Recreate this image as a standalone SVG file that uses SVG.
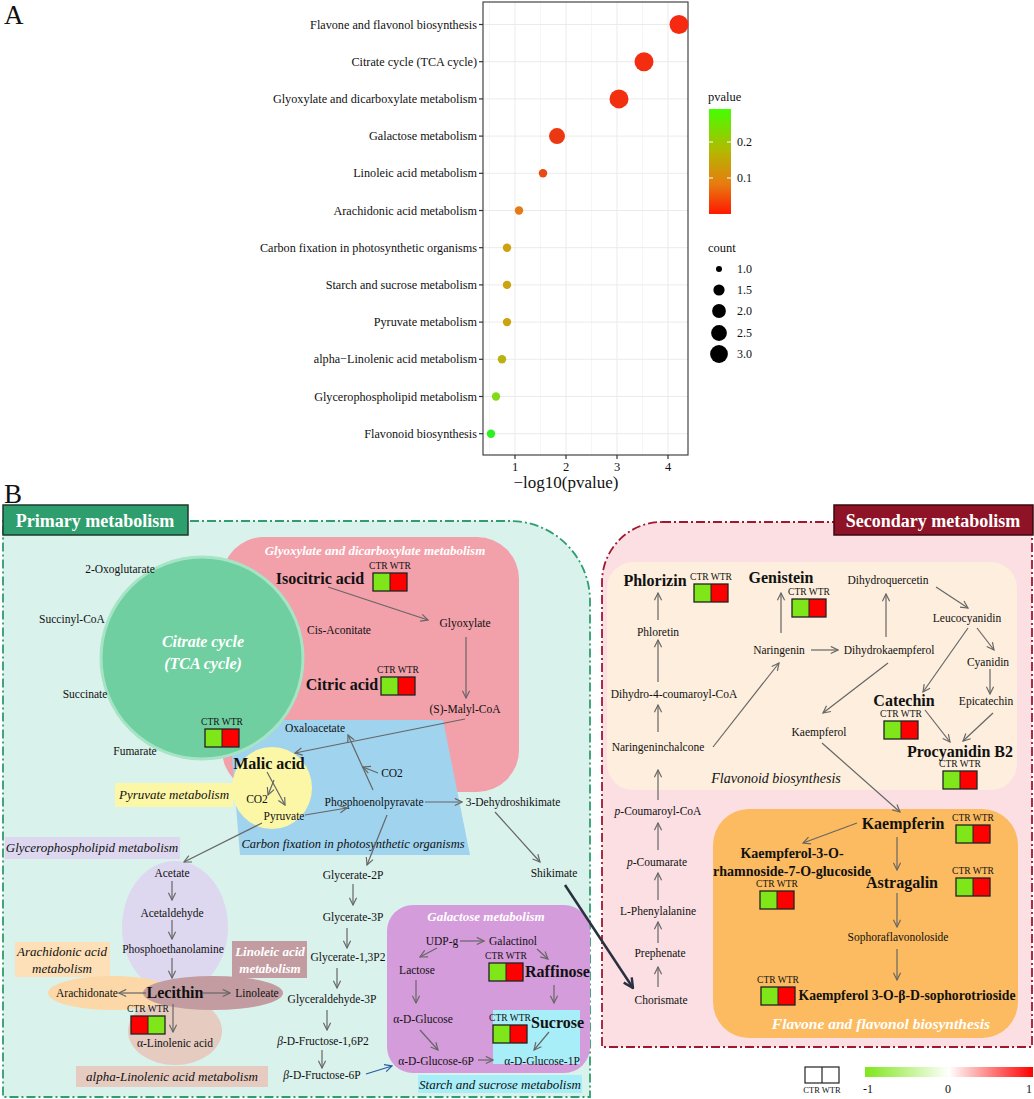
<svg xmlns="http://www.w3.org/2000/svg" xmlns:xlink="http://www.w3.org/1999/xlink" width="1034" height="1099" viewBox="0 0 1034 1099">
<defs>
<style>
text{font-family:"Liberation Serif","DejaVu Serif",serif;fill:#111}
.t{font-size:11.5px;text-anchor:middle}
.tl{font-size:12.2px;text-anchor:end}
.b{font-size:16px;font-weight:bold;text-anchor:middle}
.bs{font-size:14px;font-weight:bold;text-anchor:middle}
.it{font-size:13px;font-style:italic;text-anchor:middle}
.wt{font-size:13px;font-style:italic;font-weight:bold;text-anchor:middle;fill:#fff}
.cw{font-size:9.5px;text-anchor:middle}
.a{stroke:#666;stroke-width:1.2;fill:none;marker-end:url(#ah)}
.grid{stroke:#ebebeb;stroke-width:1}
.gridm{stroke:#f4f4f4;stroke-width:0.8}
.hd{font-size:18px;font-weight:bold;fill:#fff;text-anchor:middle}
</style>
<marker id="ah" viewBox="0 0 10 10" refX="9" refY="5" markerWidth="9" markerHeight="9" orient="auto" markerUnits="userSpaceOnUse">
<path d="M1,1 L9,5 L1,9" fill="none" stroke="#666" stroke-width="1.3"/>
</marker>
<marker id="ahb" viewBox="0 0 10 10" refX="9" refY="5" markerWidth="9" markerHeight="9" orient="auto" markerUnits="userSpaceOnUse">
<path d="M1,1 L9,5 L1,9" fill="none" stroke="#2a5aa0" stroke-width="1.3"/>
</marker>
<marker id="ahd" viewBox="0 0 10 10" refX="9" refY="5" markerWidth="12" markerHeight="12" orient="auto" markerUnits="userSpaceOnUse">
<path d="M1,1 L9,5 L1,9" fill="none" stroke="#2a3040" stroke-width="2"/>
</marker>
<linearGradient id="pv" x1="0" y1="0" x2="0" y2="1">
<stop offset="0" stop-color="#44ff00"/>
<stop offset="0.4" stop-color="#b4b800"/>
<stop offset="0.72" stop-color="#e87a10"/>
<stop offset="1" stop-color="#ff1800"/>
</linearGradient>
<linearGradient id="fc" x1="0" y1="0" x2="1" y2="0">
<stop offset="0" stop-color="#7fe61a"/>
<stop offset="0.5" stop-color="#ffffff"/>
<stop offset="1" stop-color="#ff0000"/>
</linearGradient>
<g id="gr">
<text x="17" y="-4" class="cw">CTR WTR</text>
<rect x="0" y="0" width="17" height="18" fill="#7fe61a"/>
<rect x="17" y="0" width="17" height="18" fill="#ff0000"/>
<rect x="0" y="0" width="34" height="18" fill="none" stroke="#222" stroke-width="1.3"/>
<line x1="17" y1="0" x2="17" y2="18" stroke="#222" stroke-width="1"/>
</g>
<g id="rg">
<text x="17" y="-4" class="cw">CTR WTR</text>
<rect x="0" y="0" width="17" height="18" fill="#ff0000"/>
<rect x="17" y="0" width="17" height="18" fill="#7fe61a"/>
<rect x="0" y="0" width="34" height="18" fill="none" stroke="#222" stroke-width="1.3"/>
<line x1="17" y1="0" x2="17" y2="18" stroke="#222" stroke-width="1"/>
</g>
</defs>
<rect width="1034" height="1099" fill="#fff"/>

<!-- Panel A -->
<g id="panelA">
<text x="4" y="24" style="font-size:27px">A</text>
<rect x="483" y="2" width="205" height="453" fill="#fff"/>
<g>
<line class="gridm" x1="489.5" y1="2" x2="489.5" y2="455"/>
<line class="gridm" x1="540.5" y1="2" x2="540.5" y2="455"/>
<line class="gridm" x1="591.5" y1="2" x2="591.5" y2="455"/>
<line class="gridm" x1="642.5" y1="2" x2="642.5" y2="455"/>
<line class="grid" x1="515" y1="2" x2="515" y2="455"/>
<line class="grid" x1="566" y1="2" x2="566" y2="455"/>
<line class="grid" x1="617" y1="2" x2="617" y2="455"/>
<line class="grid" x1="668" y1="2" x2="668" y2="455"/>
<line class="grid" x1="483" y1="24.5" x2="688" y2="24.5"/>
<line class="grid" x1="483" y1="61.7" x2="688" y2="61.7"/>
<line class="grid" x1="483" y1="98.9" x2="688" y2="98.9"/>
<line class="grid" x1="483" y1="136.1" x2="688" y2="136.1"/>
<line class="grid" x1="483" y1="173.3" x2="688" y2="173.3"/>
<line class="grid" x1="483" y1="210.5" x2="688" y2="210.5"/>
<line class="grid" x1="483" y1="247.7" x2="688" y2="247.7"/>
<line class="grid" x1="483" y1="284.9" x2="688" y2="284.9"/>
<line class="grid" x1="483" y1="322.1" x2="688" y2="322.1"/>
<line class="grid" x1="483" y1="359.3" x2="688" y2="359.3"/>
<line class="grid" x1="483" y1="396.5" x2="688" y2="396.5"/>
<line class="grid" x1="483" y1="433.7" x2="688" y2="433.7"/>
</g>
<rect x="483" y="2" width="205" height="453" fill="none" stroke="#444" stroke-width="1.2"/>
<g stroke="#333" stroke-width="1.2">
<line x1="479" y1="24.5" x2="483" y2="24.5"/><line x1="479" y1="61.7" x2="483" y2="61.7"/>
<line x1="479" y1="98.9" x2="483" y2="98.9"/><line x1="479" y1="136.1" x2="483" y2="136.1"/>
<line x1="479" y1="173.3" x2="483" y2="173.3"/><line x1="479" y1="210.5" x2="483" y2="210.5"/>
<line x1="479" y1="247.7" x2="483" y2="247.7"/><line x1="479" y1="284.9" x2="483" y2="284.9"/>
<line x1="479" y1="322.1" x2="483" y2="322.1"/><line x1="479" y1="359.3" x2="483" y2="359.3"/>
<line x1="479" y1="396.5" x2="483" y2="396.5"/><line x1="479" y1="433.7" x2="483" y2="433.7"/>
<line x1="515" y1="455" x2="515" y2="459"/><line x1="566" y1="455" x2="566" y2="459"/>
<line x1="617" y1="455" x2="617" y2="459"/><line x1="668" y1="455" x2="668" y2="459"/>
</g>
<text class="tl" x="477" y="28.5">Flavone and flavonol biosynthesis</text>
<text class="tl" x="477" y="65.7">Citrate cycle (TCA cycle)</text>
<text class="tl" x="477" y="102.9">Glyoxylate and dicarboxylate metabolism</text>
<text class="tl" x="477" y="140.1">Galactose metabolism</text>
<text class="tl" x="477" y="177.3">Linoleic acid metabolism</text>
<text class="tl" x="477" y="214.5">Arachidonic acid metabolism</text>
<text class="tl" x="477" y="251.7">Carbon fixation in photosynthetic organisms</text>
<text class="tl" x="477" y="288.9">Starch and sucrose metabolism</text>
<text class="tl" x="477" y="326.1">Pyruvate metabolism</text>
<text class="tl" x="477" y="363.3">alpha−Linolenic acid metabolism</text>
<text class="tl" x="477" y="400.5">Glycerophospholipid metabolism</text>
<text class="tl" x="477" y="437.7">Flavonoid biosynthesis</text>
<text class="t" x="515" y="471" style="font-size:12.5px">1</text>
<text class="t" x="566" y="471" style="font-size:12.5px">2</text>
<text class="t" x="617" y="471" style="font-size:12.5px">3</text>
<text class="t" x="668" y="471" style="font-size:12.5px">4</text>
<text class="t" x="566" y="488" style="font-size:17px">−log10(pvalue)</text>
<circle cx="679" cy="24.5" r="9.5" fill="#f52a10"/>
<circle cx="644" cy="61.7" r="9.5" fill="#f42c10"/>
<circle cx="619" cy="98.9" r="9.5" fill="#f23010"/>
<circle cx="557" cy="136.1" r="8" fill="#ec3812"/>
<circle cx="543" cy="173.3" r="4.2" fill="#e84a14"/>
<circle cx="519" cy="210.5" r="4.2" fill="#e57a18"/>
<circle cx="507" cy="247.7" r="4.2" fill="#cfa010"/>
<circle cx="507" cy="284.9" r="4.2" fill="#cda210"/>
<circle cx="507" cy="322.1" r="4.2" fill="#cda210"/>
<circle cx="502" cy="359.3" r="4.2" fill="#bab20e"/>
<circle cx="496" cy="396.5" r="4.2" fill="#84da18"/>
<circle cx="491" cy="433.7" r="4.2" fill="#2cf020"/>
<!-- legend -->
<text x="708" y="101" style="font-size:12.5px">pvalue</text>
<rect x="709" y="109" width="22" height="105" fill="url(#pv)"/>
<g stroke="#fff" stroke-width="1"><line x1="709" y1="142" x2="713" y2="142"/><line x1="727" y1="142" x2="731" y2="142"/><line x1="709" y1="178" x2="713" y2="178"/><line x1="727" y1="178" x2="731" y2="178"/></g>
<text x="737" y="146" style="font-size:12px">0.2</text>
<text x="737" y="182" style="font-size:12px">0.1</text>
<text x="708" y="252" style="font-size:12.5px">count</text>
<circle cx="719" cy="269" r="3" fill="#000"/>
<circle cx="719" cy="290" r="5.6" fill="#000"/>
<circle cx="719" cy="311" r="6.9" fill="#000"/>
<circle cx="719" cy="333" r="7.9" fill="#000"/>
<circle cx="719" cy="354" r="8.9" fill="#000"/>
<text x="737" y="273" style="font-size:12px">1.0</text>
<text x="737" y="294" style="font-size:12px">1.5</text>
<text x="737" y="315" style="font-size:12px">2.0</text>
<text x="737" y="337" style="font-size:12px">2.5</text>
<text x="737" y="358" style="font-size:12px">3.0</text>
</g>

<!-- Panel B -->
<text x="4" y="503" style="font-size:27px">B</text>

<g id="primary-region">
<path d="M3,521 H510 A80,80 0 0 1 590,601 V1097 H3 Z" fill="#daf2ec" stroke="#2e9e6e" stroke-width="1.8" stroke-dasharray="9,3,2,3"/>
</g>
<g id="secondary-region">
<path d="M662,522 H1032 V1047 H602 V582 A60,60 0 0 1 662,522 Z" fill="#fbdfe3" stroke="#a01830" stroke-width="1.8" stroke-dasharray="9,3,2,3"/>
</g>
<g id="primary-header">
<rect x="3" y="505" width="185" height="30" fill="#2f9e6e" stroke="#1d3a2c" stroke-width="1.5"/>
<text class="hd" x="95" y="527">Primary metabolism</text>
</g>
<g id="secondary-header">
<rect x="834" y="505" width="199" height="30" fill="#8e1326" stroke="#3a0a10" stroke-width="1.5"/>
<text class="hd" x="933" y="527">Secondary metabolism</text>
</g>

<!-- primary sub-areas -->
<g id="glyoxylate-area">
<rect x="222" y="537" width="297" height="255" rx="42" fill="#f2a0aa"/>
<text class="wt" x="375" y="555">Glyoxylate and dicarboxylate metabolism</text>
</g>
<g id="carbon-fixation-area">
<polygon points="229,720 443,720 470,855 240,855" fill="#9fd3ee"/>
<text class="it" x="353" y="848" style="font-size:12.5px">Carbon fixation in photosynthetic organisms</text>
</g>
<g id="tca-cycle">
<circle cx="202" cy="658" r="101" fill="#6fcfa0" stroke="#a6e4c6" stroke-width="3"/>
<text class="wt" x="203" y="647" style="font-size:16px">Citrate cycle</text>
<text class="wt" x="203" y="669" style="font-size:16px">(TCA cycle)</text>
<use xlink:href="#gr" x="205" y="729"/>
</g>
<g id="pyruvate-area">
<ellipse cx="272" cy="788" rx="40" ry="41" fill="#fcf7a6"/>
<rect x="115" y="783" width="118" height="24" fill="#fcf7a6"/>
<text class="it" x="174" y="799">Pyruvate metabolism</text>
</g>
<g id="glycerophospholipid-area">
<rect x="5" y="837" width="175" height="22" fill="#ddd8ef"/>
<text class="it" x="92" y="852">Glycerophospholipid metabolism</text>
<ellipse cx="175" cy="927" rx="53" ry="66" fill="#ddd8ef"/>
</g>
<g id="alpha-linolenic-area">
<ellipse cx="175" cy="1031" rx="47" ry="34" fill="#e5cbc0"/>
<rect x="76" y="1066" width="192" height="21" fill="#e5cbc0"/>
<text class="it" x="172" y="1081">alpha-Linolenic acid metabolism</text>
</g>
<g id="arachidonic-area">
<rect x="15" y="942" width="95" height="35" fill="#fde0b8"/>
<text class="it" x="62" y="956">Arachidonic acid</text>
<text class="it" x="62" y="973">metabolism</text>
<ellipse cx="112" cy="993" rx="64" ry="17" fill="#fcd8a8"/>
</g>
<g id="linoleic-area">
<ellipse cx="213" cy="993" rx="70" ry="17" fill="#c29ca0"/>
<rect x="232" y="941" width="75" height="37" fill="#c29ca0"/>
<text class="wt" x="270" y="956">Linoleic acid</text>
<text class="wt" x="270" y="973">metabolism</text>
</g>
<g id="galactose-area">
<rect x="387" y="905" width="203" height="168" rx="26" fill="#d59cdb"/>
<text class="wt" x="486" y="921">Galactose metabolism</text>
<rect x="493" y="1010" width="87" height="54" fill="#a8eef8"/>
<rect x="418" y="1075" width="164" height="18" fill="#a8eef8"/>
<text class="it" x="500" y="1089">Starch and sucrose metabolism</text>
</g>

<!-- secondary sub-areas -->
<g id="flavonoid-area">
<rect x="607" y="562" width="410" height="228" rx="26" fill="#fdeedd"/>
<text class="it" x="776" y="783" style="font-size:14px">Flavonoid biosynthesis</text>
</g>
<g id="flavone-area">
<rect x="713" y="809" width="305" height="229" rx="36" fill="#fcbb60"/>
<text class="wt" x="881" y="1029" style="font-size:15.5px">Flavone and flavonol biosynthesis</text>
</g>

<!-- primary nodes -->
<g id="n-2oxo"><text class="t" x="120" y="573">2-Oxoglutarate</text></g>
<g id="n-succoa"><text class="t" x="72" y="623">Succinyl-CoA</text></g>
<g id="n-succinate"><text class="t" x="85" y="698">Succinate</text></g>
<g id="n-fumarate"><text class="t" x="135" y="755">Fumarate</text></g>
<g id="n-cisacon"><text class="t" x="339" y="634">Cis-Aconitate</text></g>
<g id="n-isocitric"><text class="b" x="320" y="584">Isocitric acid</text><use xlink:href="#gr" x="373" y="573"/></g>
<g id="n-glyoxylate"><text class="t" x="465" y="627">Glyoxylate</text></g>
<g id="n-citric"><text class="b" x="342" y="690">Citric acid</text><use xlink:href="#gr" x="381" y="677"/></g>
<g id="n-malyl"><text class="t" x="465" y="713">(S)-Malyl-CoA</text></g>
<g id="n-oxalo"><text class="t" x="315" y="732">Oxaloacetate</text></g>
<g id="n-co2b"><text class="t" x="392" y="777">CO2</text></g>
<g id="n-malic"><text class="b" x="269" y="769">Malic acid</text></g>
<g id="n-co2a"><text class="t" x="257" y="803">CO2</text></g>
<g id="n-pyruvate"><text class="t" x="284" y="820">Pyruvate</text></g>
<g id="n-pep"><text class="t" x="374" y="806">Phosphoenolpyravate</text></g>
<g id="n-3dhs"><text class="t" x="513" y="806">3-Dehydroshikimate</text></g>
<g id="n-shikimate"><text class="t" x="554" y="877">Shikimate</text></g>
<g id="n-acetate"><text class="t" x="172" y="877">Acetate</text></g>
<g id="n-acetaldehyde"><text class="t" x="172" y="917">Acetaldehyde</text></g>
<g id="n-pea"><text class="t" x="173" y="953">Phosphoethanolamine</text></g>
<g id="n-lecithin"><text class="b" x="175" y="998">Lecithin</text><use xlink:href="#rg" x="131" y="1016"/></g>
<g id="n-arachidonate"><text class="t" x="87" y="997">Arachidonate</text></g>
<g id="n-linoleate"><text class="t" x="257" y="997">Linoleate</text></g>
<g id="n-alin"><text class="t" x="175" y="1047">α-Linolenic acid</text></g>
<g id="n-g2p"><text class="t" x="353" y="879">Glycerate-2P</text></g>
<g id="n-g3p"><text class="t" x="353" y="921">Glycerate-3P</text></g>
<g id="n-g13p2"><text class="t" x="348" y="961">Glycerate-1,3P2</text></g>
<g id="n-gap"><text class="t" x="332" y="1003">Glyceraldehyde-3P</text></g>
<g id="n-f16p2"><text class="t" x="323" y="1045"><tspan font-style="italic">β</tspan>-D-Fructose-1,6P2</text></g>
<g id="n-f6p"><text class="t" x="322" y="1079"><tspan font-style="italic">β</tspan>-D-Fructose-6P</text></g>
<g id="n-udpg"><text class="t" x="442" y="945">UDP-g</text></g>
<g id="n-galactinol"><text class="t" x="513" y="945">Galactinol</text></g>
<g id="n-lactose"><text class="t" x="417" y="974">Lactose</text></g>
<g id="n-raffinose"><use xlink:href="#gr" x="489" y="963"/><text class="b" x="525" y="977" style="text-anchor:start">Raffinose</text></g>
<g id="n-aglucose"><text class="t" x="423" y="1023">α-D-Glucose</text></g>
<g id="n-sucrose"><use xlink:href="#gr" x="493" y="1025"/><text class="b" x="531" y="1028" style="text-anchor:start">Sucrose</text></g>
<g id="n-g6p"><text class="t" x="436" y="1065">α-D-Glucose-6P</text></g>
<g id="n-g1p"><text class="t" x="542" y="1065">α-D-Glucose-1P</text></g>

<!-- secondary nodes -->
<g id="n-phlorizin"><text class="b" x="655" y="586">Phlorizin</text><use xlink:href="#gr" x="694" y="584"/></g>
<g id="n-phloretin"><text class="t" x="658" y="636">Phloretin</text></g>
<g id="n-dh4c"><text class="t" x="674" y="698">Dihydro-4-coumaroyl-CoA</text></g>
<g id="n-nchalcone"><text class="t" x="658" y="751">Naringeninchalcone</text></g>
<g id="n-genistein"><text class="b" x="781" y="583">Genistein</text><use xlink:href="#gr" x="792" y="599"/></g>
<g id="n-naringenin"><text class="t" x="779" y="654">Naringenin</text></g>
<g id="n-dhk"><text class="t" x="889" y="654">Dihydrokaempferol</text></g>
<g id="n-dhq"><text class="t" x="888" y="584">Dihydroquercetin</text></g>
<g id="n-leuco"><text class="t" x="967" y="622">Leucocyanidin</text></g>
<g id="n-cyanidin"><text class="t" x="988" y="666">Cyanidin</text></g>
<g id="n-epicatechin"><text class="t" x="986" y="705">Epicatechin</text></g>
<g id="n-catechin"><text class="b" x="904" y="706">Catechin</text><use xlink:href="#gr" x="884" y="721"/></g>
<g id="n-procyanidin"><text class="b" x="960" y="757">Procyanidin B2</text><use xlink:href="#gr" x="943" y="771"/></g>
<g id="n-kaempferol"><text class="t" x="819" y="736">Kaempferol</text></g>
<g id="n-pcoacoa"><text class="t" x="658" y="815"><tspan font-style="italic">p</tspan>-Coumaroyl-CoA</text></g>
<g id="n-pcoumarate"><text class="t" x="657" y="866"><tspan font-style="italic">p</tspan>-Coumarate</text></g>
<g id="n-lphe"><text class="t" x="658" y="915">L-Phenylalanine</text></g>
<g id="n-prephenate"><text class="t" x="660" y="957">Prephenate</text></g>
<g id="n-chorismate"><text class="t" x="661" y="1004">Chorismate</text></g>
<g id="n-kaempferin"><text class="b" x="903" y="829">Kaempferin</text><use xlink:href="#gr" x="956" y="825"/></g>
<g id="n-k3orham"><text class="bs" x="792" y="858">Kaempferol-3-O-</text><text class="bs" x="792" y="876">rhamnoside-7-O-glucoside</text><use xlink:href="#gr" x="760" y="891"/></g>
<g id="n-astragalin"><text class="b" x="902" y="888">Astragalin</text><use xlink:href="#gr" x="956" y="878"/></g>
<g id="n-sopho"><text class="t" x="898" y="941">Sophoraflavonoloside</text></g>
<g id="n-k3osoph"><use xlink:href="#gr" x="761" y="987"/><text class="bs" x="907" y="1000" style="font-size:13.7px">Kaempferol 3-O-β-D-sophorotrioside</text></g>

<!-- legend B -->
<g id="legendB">
<rect x="805" y="1067" width="34" height="16" fill="#fff" stroke="#222" stroke-width="1.2"/>
<line x1="822" y1="1067" x2="822" y2="1083" stroke="#222" stroke-width="1.2"/>
<text class="cw" x="822" y="1093" style="font-size:8.5px">CTR WTR</text>
<rect x="865" y="1067" width="168" height="10" fill="url(#fc)"/>
<text class="t" x="868" y="1093" style="font-size:12px">-1</text>
<text class="t" x="948" y="1093" style="font-size:12px">0</text>
<text class="t" x="1029" y="1093" style="font-size:12px">1</text>
</g>

<!-- connectors -->
<g id="connectors">
<line class="a" x1="328" y1="587" x2="428" y2="620"/>
<line class="a" x1="466" y1="637" x2="466" y2="698"/>
<line class="a" x1="465" y1="719" x2="295" y2="753"/>
<line class="a" x1="373" y1="790" x2="348" y2="735"/>
<line class="a" x1="378" y1="773" x2="363" y2="767"/>
<line class="a" x1="267" y1="772" x2="285" y2="805"/>
<line class="a" x1="274" y1="780" x2="268" y2="795"/>
<line class="a" x1="305" y1="815" x2="347" y2="808"/>
<line class="a" x1="425" y1="802" x2="462" y2="802"/>
<line class="a" x1="495" y1="812" x2="540" y2="862"/>
<line class="a" x1="262" y1="823" x2="184" y2="862"/>
<line class="a" x1="172" y1="881" x2="172" y2="900"/>
<line class="a" x1="172" y1="920" x2="172" y2="939"/>
<line class="a" x1="172" y1="958" x2="172" y2="978"/>
<line class="a" x1="146" y1="993" x2="119" y2="993"/>
<line class="a" x1="203" y1="993" x2="230" y2="993"/>
<line class="a" x1="173" y1="1004" x2="173" y2="1032"/>
<line class="a" x1="387" y1="815" x2="367" y2="865"/>
<line class="a" x1="353" y1="884" x2="353" y2="905"/>
<line class="a" x1="347" y1="928" x2="347" y2="948"/>
<line class="a" x1="337" y1="968" x2="337" y2="988"/>
<line class="a" x1="327" y1="1010" x2="327" y2="1030"/>
<line class="a" x1="322" y1="1050" x2="322" y2="1068"/>
<line x1="366" y1="1074" x2="392" y2="1066" stroke="#2a5aa0" stroke-width="1.3" marker-end="url(#ahb)"/>
<line class="a" x1="460" y1="941" x2="484" y2="941"/>
<line class="a" x1="437" y1="948" x2="420" y2="957"/>
<line class="a" x1="416" y1="980" x2="416" y2="1003"/>
<line class="a" x1="420" y1="1030" x2="438" y2="1050"/>
<line class="a" x1="478" y1="1060" x2="493" y2="1060"/>
<line class="a" x1="537" y1="949" x2="548" y2="959"/>
<line class="a" x1="554" y1="985" x2="554" y2="1003"/>
<line class="a" x1="549" y1="1032" x2="534" y2="1050"/>
<line x1="565" y1="885" x2="633" y2="988" stroke="#2a3040" stroke-width="2.5" marker-end="url(#ahd)"/>
<line class="a" x1="658" y1="987" x2="658" y2="967"/>
<line class="a" x1="658" y1="943" x2="658" y2="922"/>
<line class="a" x1="658" y1="900" x2="658" y2="873"/>
<line class="a" x1="658" y1="850" x2="658" y2="823"/>
<line class="a" x1="658" y1="800" x2="658" y2="770"/>
<line class="a" x1="658" y1="732" x2="658" y2="705"/>
<line class="a" x1="658" y1="682" x2="658" y2="640"/>
<line class="a" x1="658" y1="620" x2="658" y2="593"/>
<line class="a" x1="713" y1="747" x2="779" y2="663"/>
<line class="a" x1="781" y1="633" x2="781" y2="593"/>
<line class="a" x1="811" y1="650" x2="838" y2="650"/>
<line class="a" x1="886" y1="637" x2="886" y2="594"/>
<line class="a" x1="936" y1="587" x2="968" y2="608"/>
<line class="a" x1="977" y1="628" x2="994" y2="650"/>
<line class="a" x1="990" y1="669" x2="990" y2="694"/>
<line class="a" x1="968" y1="628" x2="923" y2="692"/>
<line class="a" x1="925" y1="710" x2="950" y2="742"/>
<line class="a" x1="993" y1="713" x2="963" y2="741"/>
<line class="a" x1="888" y1="663" x2="823" y2="713"/>
<line class="a" x1="822" y1="743" x2="900" y2="812"/>
<line class="a" x1="857" y1="823" x2="803" y2="843"/>
<line class="a" x1="897" y1="837" x2="897" y2="870"/>
<line class="a" x1="897" y1="893" x2="897" y2="927"/>
<line class="a" x1="897" y1="949" x2="897" y2="980"/>
</g>
</svg>
